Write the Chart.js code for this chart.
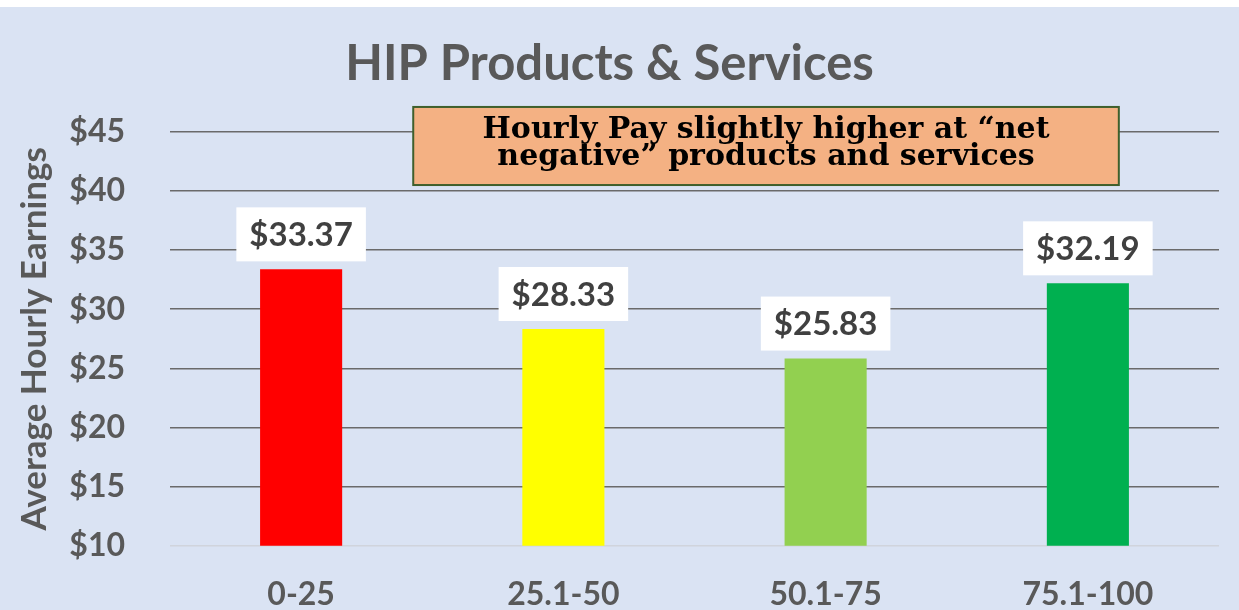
<!DOCTYPE html>
<html>
<head>
<meta charset="utf-8">
<script src="https://cdn.jsdelivr.net/npm/chart.js@4"></script>
<style>
html,body{margin:0;padding:0;background:#ffffff;}
#wrap{position:absolute;left:0;top:0;width:1239px;height:610px;}
</style>
</head>
<body>
<div id="wrap"><canvas id="c" width="1239" height="610"></canvas></div>
<script>
// ---- data ----
const categories = ['0-25', '25.1-50', '50.1-75', '75.1-100'];
const hourlyEarnings = [33.37, 28.33, 25.83, 32.19];
const barColors = ['#FF0000', '#FFFF00', '#92D050', '#00B050'];
const yTickValues = [10, 15, 20, 25, 30, 35, 40, 45];
const titleText = 'HIP Products & Services';
const yAxisTitle = 'Average Hourly Earnings';
const noteLines = ['Hourly Pay slightly higher at \u201Cnet', 'negative\u201D products and services'];

const SANS = 'Lato, "Open Sans", sans-serif';

const bgPlugin = {
  id: 'bg',
  beforeDraw(chart) {
    const {ctx, width, height} = chart;
    ctx.save();
    ctx.fillStyle = '#FFFFFF';
    ctx.fillRect(0, 0, width, height);
    ctx.fillStyle = '#DAE3F3';
    ctx.fillRect(0, 7, width, height - 7);
    ctx.restore();
  }
};

const valueLabelPlugin = {
  id: 'valueLabels',
  afterDatasetsDraw(chart) {
    const {ctx} = chart;
    const meta = chart.getDatasetMeta(0);
    const ds = chart.data.datasets[0];
    ctx.save();
    ctx.font = 'bold 33px ' + SANS;
    ctx.textAlign = 'center';
    ctx.textBaseline = 'middle';
    meta.data.forEach((bar, i) => {
      const txt = '$' + ds.data[i].toFixed(2);
      const w = ctx.measureText(txt).width + 26;
      const h = 54;
      const bottom = bar.y - 8;
      ctx.fillStyle = '#FFFFFF';
      ctx.fillRect(bar.x - w / 2, bottom - h, w, h);
      ctx.fillStyle = '#404040';
      ctx.fillText(txt, bar.x, bottom - h / 2 + 1);
    });
    ctx.restore();
  }
};

const notePlugin = {
  id: 'note',
  afterDatasetsDraw(chart, args, opts) {
    const {ctx} = chart;
    const xs = chart.scales.x, ys = chart.scales.y;
    const l = xs.getPixelForValue(opts.xFrom);
    const r = xs.getPixelForValue(opts.xTo);
    const t = ys.getPixelForValue(opts.yTop);
    const b = ys.getPixelForValue(opts.yBottom);
    ctx.save();
    ctx.fillStyle = '#F4B183';
    ctx.fillRect(l, t, r - l, b - t);
    ctx.strokeStyle = '#3F5F2C';
    ctx.lineWidth = 2;
    ctx.strokeRect(l, t, r - l, b - t);
    ctx.fillStyle = '#000000';
    ctx.font = 'bold 30px "DejaVu Serif", serif';
    ctx.textAlign = 'center';
    ctx.textBaseline = 'alphabetic';
    const cx = (l + r) / 2;
    noteLines.forEach((line, i) => {
      ctx.fillText(line, cx, t + 31 + i * 27);
    });
    ctx.restore();
  }
};

const ctx = document.getElementById('c').getContext('2d');
new Chart(ctx, {
  type: 'bar',
  data: {
    labels: categories,
    datasets: [{
      data: hourlyEarnings,
      backgroundColor: barColors,
      borderWidth: 0,
      categoryPercentage: 1,
      barPercentage: 0.313
    }]
  },
  options: {
    responsive: false,
    animation: false,
    devicePixelRatio: 1,
    layout: {padding: {left: 0, right: 20, top: 0, bottom: 0}},
    plugins: {
      legend: {display: false},
      tooltip: {enabled: false},
      title: {
        display: true,
        text: titleText,
        color: '#595959',
        font: {family: SANS, size: 49, weight: 'bold', lineHeight: 1.2},
        padding: {top: 35, bottom: 38}
      },
      note: {xFrom: 0.4275, xTo: 3.118, yTop: 47.1, yBottom: 40.5}
    },
    scales: {
      x: {
        grid: {display: false},
        border: {display: false},
        ticks: {
          color: '#595959',
          font: {family: SANS, size: 32, weight: 'bold'},
          padding: 22,
          maxRotation: 0
        },
        afterFit(scale) { scale.height = 64; }
      },
      y: {
        min: 10,
        max: 45,
        border: {display: false},
        grid: {
          drawTicks: false,
          lineWidth: 1.5,
          color: (c) => (c.tick && c.tick.value === 10) ? '#D0D4DC' : '#6A6A6A'
        },
        ticks: {
          color: '#595959',
          font: {family: SANS, size: 32, weight: 'bold'},
          padding: 45,
          callback: (v) => '$' + v
        },
        afterBuildTicks(scale) {
          scale.ticks = yTickValues.map(v => ({value: v}));
        },
        title: {
          display: true,
          text: yAxisTitle,
          color: '#595959',
          font: {family: SANS, size: 35, weight: 'bold'},
          padding: {top: 14}
        },
        afterFit(scale) { scale.width = 170; }
      }
    }
  },
  plugins: [bgPlugin, valueLabelPlugin, notePlugin]
});
</script>
</body>
</html>
